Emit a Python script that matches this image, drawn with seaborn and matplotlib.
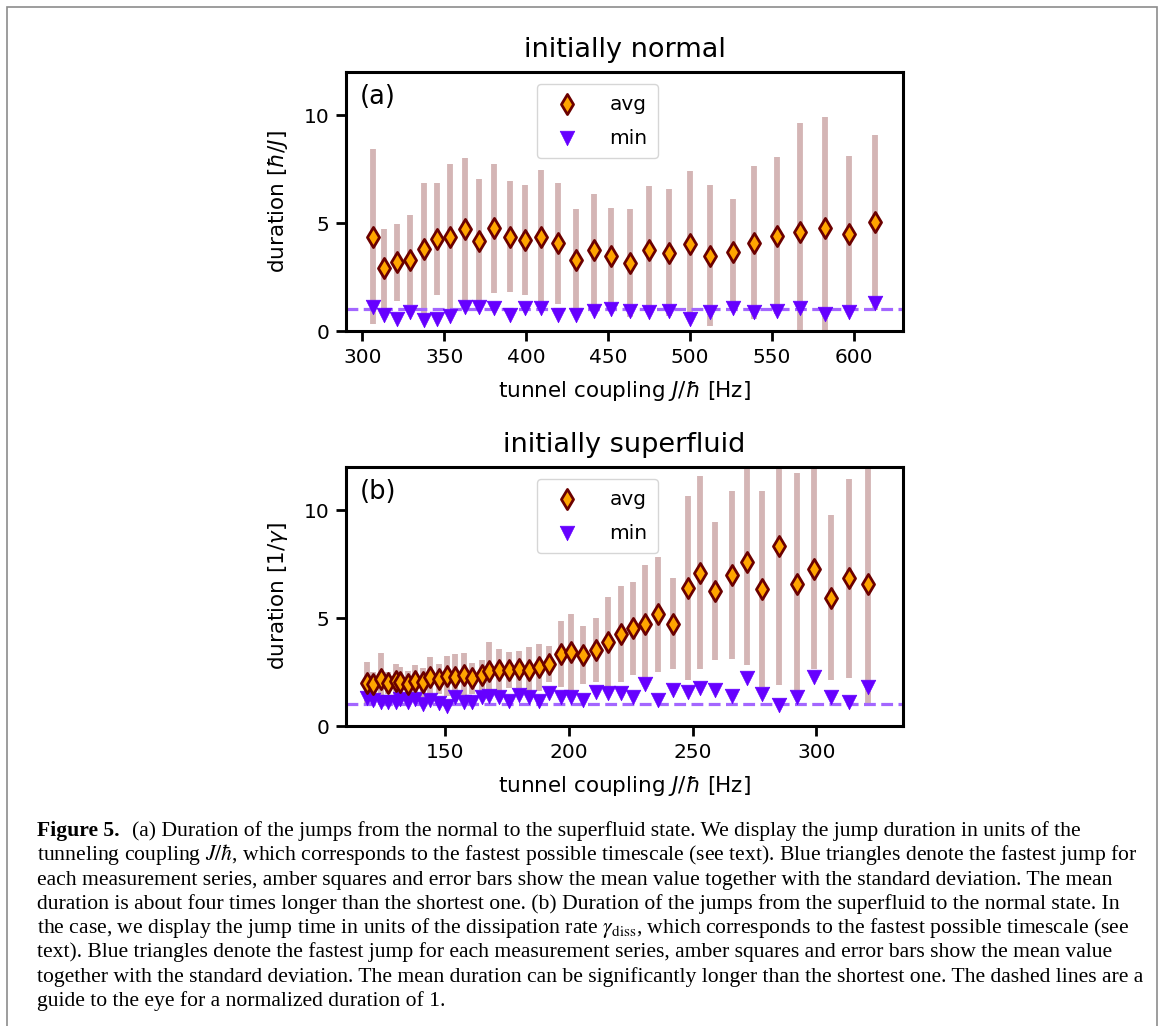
import numpy as np
import pandas as pd
import matplotlib
matplotlib.use("Agg")
import matplotlib.pyplot as plt
from matplotlib.patches import Rectangle
import seaborn as sns

# ---------------- data: panel (a) initially normal ----------------
a_coupling = [306.4, 313.5, 321.3, 329.2, 337.7, 345.4, 353.2, 362.7, 371.3, 380.2,
              390.2, 399.3, 409.0, 419.2, 430.3, 441.3, 452.0, 463.1, 475.2, 487.0,
              500.1, 512.0, 526.0, 538.8, 553.0, 567.2, 582.1, 596.9, 612.9]
a_avg = [4.37, 2.90, 3.18, 3.29, 3.78, 4.26, 4.37, 4.71, 4.15, 4.75,
         4.37, 4.21, 4.37, 4.06, 3.29, 3.75, 3.47, 3.16, 3.75, 3.63,
         4.03, 3.49, 3.67, 4.09, 4.41, 4.60, 4.75, 4.49, 5.03]
a_std = [4.06, 1.82, 1.77, 2.08, 3.07, 2.59, 3.36, 3.30, 2.89, 2.98,
         2.57, 2.55, 3.08, 2.79, 2.37, 2.59, 2.24, 2.49, 2.95, 2.94,
         3.36, 3.27, 2.44, 3.55, 3.63, 5.03, 5.17, 3.61, 4.04]
a_min = [1.10, 0.74, 0.54, 0.89, 0.51, 0.54, 0.69, 1.10, 1.13, 1.05,
         0.74, 1.05, 1.05, 0.74, 0.74, 0.94, 1.00, 0.94, 0.86, 0.94,
         0.54, 0.86, 1.05, 0.86, 0.94, 1.05, 0.79, 0.89, 1.31]

# ---------------- data: panel (b) initially superfluid ----------------
b_coupling = [118.4, 120.8, 124.0, 127.1, 130.1, 131.8, 134.9, 137.9, 141.0, 143.9,
              147.7, 150.9, 154.0, 157.8, 161.0, 164.8, 167.9, 171.7, 175.9, 179.9,
              183.9, 188.0, 192.0, 196.9, 200.9, 205.9, 210.9, 216.0, 221.0, 225.8,
              230.6, 236.2, 241.9, 248.0, 253.0, 259.1, 266.1, 271.9, 278.1, 285.1,
              292.1, 299.1, 306.0, 313.0, 321.0]
b_avg = [2.01, 1.94, 2.16, 1.98, 2.10, 2.05, 1.94, 2.10, 2.02, 2.25,
         2.18, 2.31, 2.25, 2.36, 2.21, 2.36, 2.56, 2.58, 2.59, 2.62,
         2.59, 2.72, 2.86, 3.33, 3.41, 3.29, 3.52, 3.90, 4.26, 4.52,
         4.73, 5.17, 4.74, 6.40, 7.10, 6.25, 6.99, 7.58, 6.34, 8.35,
         6.60, 7.27, 5.94, 6.84, 6.56]
b_std = [0.94, 0.54, 1.20, 0.50, 0.77, 0.67, 0.61, 0.72, 0.68, 0.93,
         0.69, 0.93, 1.08, 1.02, 0.71, 0.70, 1.33, 0.98, 0.84, 0.85,
         1.07, 1.08, 0.84, 1.53, 1.78, 1.34, 1.48, 2.07, 2.22, 2.15,
         2.72, 2.65, 2.10, 4.25, 4.47, 3.18, 3.89, 4.76, 4.54, 6.45,
         5.10, 4.63, 3.83, 4.60, 5.50]
b_min = [1.28, 1.20, 1.13, 1.13, 1.13, 1.24, 1.13, 1.24, 1.02, 1.20,
         1.08, 0.93, 1.33, 1.13, 1.13, 1.33, 1.39, 1.35, 1.17, 1.44,
         1.33, 1.17, 1.51, 1.36, 1.36, 1.20, 1.59, 1.54, 1.51, 1.33,
         1.94, 1.20, 1.67, 1.59, 1.74, 1.67, 1.40, 2.21, 1.47, 0.95,
         1.36, 2.28, 1.36, 1.10, 1.82]

titles = ["initially normal", "initially superfluid"]
panel_tags = ["(a)", "(b)"]
ylabels = [r"duration [$\hbar/J$]", r"duration [1/$\gamma$]"]
xlabel = r"tunnel coupling $J/\hbar$ [Hz]"
a_xticks = [300, 350, 400, 450, 500, 550, 600]
b_xticks = [150, 200, 250, 300]
yticks = [0, 5, 10]

caption_lines = [
    "(a) Duration of the jumps from the normal to the superfluid state. We display the jump duration in units of the",
    r"tunneling coupling $J/\hbar$, which corresponds to the fastest possible timescale (see text). Blue triangles denote the fastest jump for",
    "each measurement series, amber squares and error bars show the mean value together with the standard deviation. The mean",
    "duration is about four times longer than the shortest one. (b) Duration of the jumps from the superfluid to the normal state. In",
    r"the case, we display the jump time in units of the dissipation rate $\gamma_{\rm diss}$, which corresponds to the fastest possible timescale (see",
    "text). Blue triangles denote the fastest jump for each measurement series, amber squares and error bars show the mean value",
    "together with the standard deviation. The mean duration can be significantly longer than the shortest one. The dashed lines are a",
    "guide to the eye for a normalized duration of 1.",
]

# ---------------- style ----------------
sns.set_style("ticks")
plt.rcParams['font.family'] = ['DejaVu Sans']
plt.rcParams['mathtext.fontset'] = 'dejavusans'
for key in ["text.color", "axes.labelcolor", "xtick.color", "ytick.color", "axes.edgecolor"]:
    plt.rcParams[key] = "black"

W, H = 1163, 1026
fig = plt.figure(figsize=(W / 100, H / 100), dpi=100)

avg_face = "#ffa500"
avg_edge = "#6b0000"
min_col = "#6600ff"
bar_col = "#d4b5b5"
dash_col = "#a366ff"

panels = [
    (a_coupling, a_avg, a_std, a_min, (290, 630), a_xticks, 331, 72),
    (b_coupling, b_avg, b_std, b_min, (110, 335), b_xticks, 726, 467),
]

for i, (xc, avg, std, mn, xlim, xt, ybot, ytop) in enumerate(panels):
    ax = fig.add_axes([346 / W, 1 - ybot / H, (903 - 346) / W, (ybot - ytop) / H])
    df = pd.DataFrame({"J": xc, "avg": avg, "std": std, "min": mn})
    ax.errorbar(df["J"], df["avg"], yerr=df["std"], fmt="none", ecolor=bar_col,
                elinewidth=4.2, capsize=0, zorder=1)
    ax.axhline(1, color=dash_col, lw=2.3, ls=(0, (3.7, 1.7)), zorder=2)
    sns.scatterplot(data=df, x="J", y="min", marker="v", s=110, color=min_col,
                    edgecolor=min_col, linewidth=0.5, ax=ax, zorder=3, label="min")
    sns.scatterplot(data=df, x="J", y="avg", marker="d", s=105, color=avg_face,
                    edgecolor=avg_edge, linewidth=2.0, ax=ax, zorder=4, label="avg")
    ax.set_xlim(*xlim)
    ax.set_ylim(0, 12)
    ax.set_xticks(xt)
    ax.set_yticks(yticks)
    ax.tick_params(labelsize=14.5, width=2, length=7, direction="out", pad=5,
                   colors="black")
    for sp in ax.spines.values():
        sp.set_linewidth(2.2)
        sp.set_visible(True)
        sp.set_color("black")
    ax.set_xlabel(xlabel, fontsize=15.5, labelpad=9)
    ax.set_ylabel(ylabels[i], fontsize=15.5, labelpad=10)
    ax.set_title(titles[i], fontsize=19.5, pad=11)
    ax.text(0.025, 0.955, panel_tags[i], transform=ax.transAxes, fontsize=18.5,
            ha="left", va="top")
    handles, labels = ax.get_legend_handles_labels()
    order = [labels.index("avg"), labels.index("min")]
    ax.legend([handles[k] for k in order], [labels[k] for k in order],
              loc="upper left", bbox_to_anchor=(0.343, 0.952), borderaxespad=0,
              fontsize=14.5, handletextpad=1.1, borderpad=0.5, labelspacing=0.75,
              frameon=True, framealpha=0.8)

# frame around figure
fig.add_artist(Rectangle((7 / W, -0.05), (1157 - 7) / W, 1.05 - 7 / H,
                         transform=fig.transFigure, fill=False,
                         edgecolor="#8c8c8c", lw=1.2))

# caption
cap_fs = 15.6
x0 = 37 / W
renderer = fig.canvas.get_renderer()
for k, line in enumerate(caption_lines):
    yb = 1 - (836 + 24.3 * k) / H
    if k == 0:
        t = fig.text(x0, yb, "Figure 5.", fontsize=cap_fs, fontweight="bold",
                     family="Liberation Serif", va="baseline", ha="left")
        bb = t.get_window_extent(renderer=renderer)
        fig.text((bb.x1 + 12) / W, yb, line, fontsize=cap_fs,
                 family="Liberation Serif", va="baseline", ha="left",
                 math_fontfamily="stix")
    else:
        fig.text(x0, yb, line, fontsize=cap_fs, family="Liberation Serif",
                 va="baseline", ha="left", math_fontfamily="stix")

fig.savefig("out.png", dpi=100)
